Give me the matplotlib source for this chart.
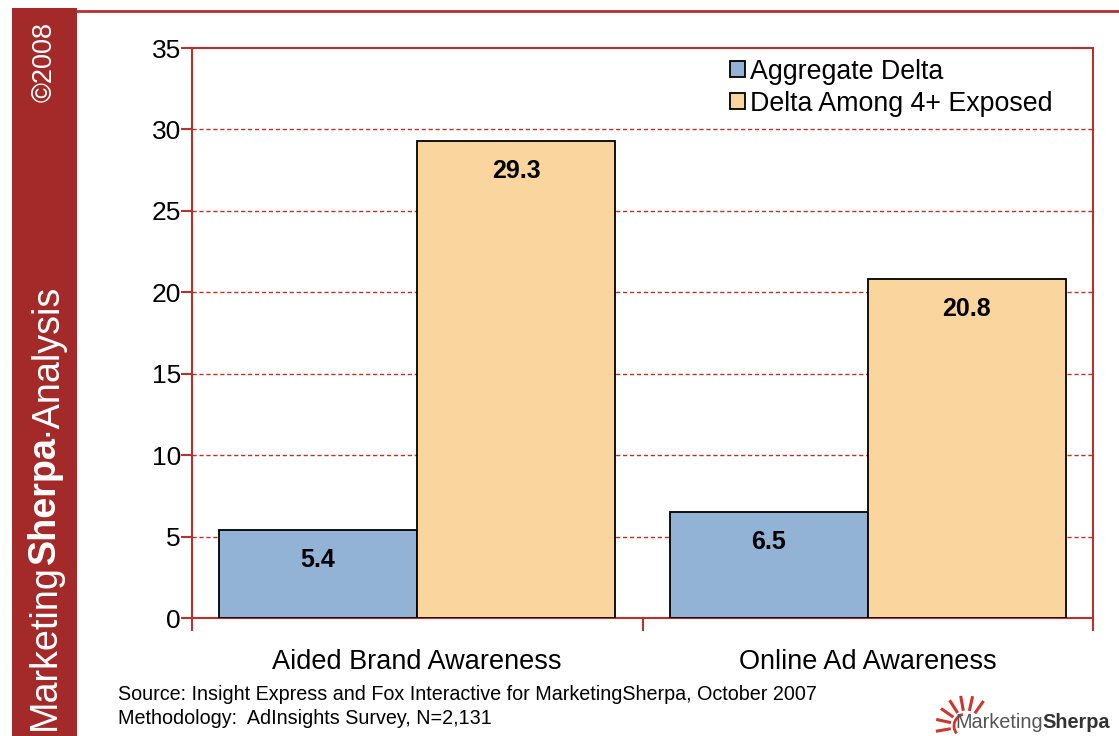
import matplotlib.pyplot as plt
import numpy as np
from matplotlib.patches import Rectangle, Arc
from matplotlib.lines import Line2D

# data
categories = ['Aided Brand Awareness', 'Online Ad Awareness']
series_names = ['Aggregate Delta', 'Delta Among 4+ Exposed']
aggregate_delta = [5.4, 6.5]
delta_4plus = [29.3, 20.8]
y_ticks = [0, 5, 10, 15, 20, 25, 30, 35]

source_lines = ['Source: Insight Express and Fox Interactive for MarketingSherpa, October 2007',
                'Methodology:  AdInsights Survey, N=2,131']


def draw_chart():
    plt.rcParams['font.family'] = ['Liberation Sans', 'DejaVu Sans']
    red = '#B8312C'
    side_red = '#A32A29'
    blue = '#93B3D6'
    orange = '#FAD59D'

    fig = plt.figure(figsize=(11.19, 7.36), dpi=100)
    W, H = 1119, 736
    r = fig.canvas.get_renderer()

    # red side band with vertical brand text
    fig.patches.append(Rectangle((12 / W, 0), 65 / W, 1 - 8 / H, transform=fig.transFigure,
                                 facecolor=side_red, edgecolor='none', zorder=0))
    fig.lines.append(Line2D([77 / W, 1], [1 - 11 / H, 1 - 11 / H], transform=fig.transFigure,
                            color=red, lw=2))
    y0 = 6
    for txt, wt in [('Marketing', 'normal'), ('Sherpa', 'bold'), ('·Analysis', 'normal')]:
        t = fig.text(55 / W, y0 / H, txt, rotation=90, rotation_mode='anchor', color='white',
                     fontsize=27.2, fontweight=wt, ha='left', va='baseline')
        y0 += t.get_window_extent(r).height
    fig.text(52 / W, 1 - 22 / H, '©2008', rotation=90, rotation_mode='anchor', color='white',
             fontsize=19.5, ha='right', va='baseline')

    # main axes
    ax = fig.add_axes([192 / W, 1 - 618 / H, (1093 - 192) / W, (618 - 48) / H])
    x = np.arange(len(categories))
    w = 0.44
    b1 = ax.bar(x - w / 2, aggregate_delta, w, color=blue, edgecolor='black', lw=1.3,
                label=series_names[0], zorder=3)
    b2 = ax.bar(x + w / 2, delta_4plus, w, color=orange, edgecolor='black', lw=1.3,
                label=series_names[1], zorder=3)

    # value labels inside top of bars
    for bars in (b1, b2):
        for bar in bars:
            hgt = bar.get_height()
            ax.annotate(f'{hgt:.1f}', (bar.get_x() + bar.get_width() / 2, hgt),
                        xytext=(0, -30), textcoords='offset pixels',
                        ha='center', va='center', fontsize=18, fontweight='bold', zorder=4)

    ax.set_xlim(-0.5, len(categories) - 0.5)
    ax.set_ylim(0, 35)
    ax.set_yticks(y_ticks)
    ax.tick_params(axis='y', labelsize=19, length=8, color=red, width=1.5, direction='out', pad=0)
    ax.set_xticks(x)
    ax.set_xticklabels(categories, fontsize=19.5)
    ax.tick_params(axis='x', length=0, pad=22)
    ax.set_xticks([-0.5, 0.5, 1.5], minor=True)
    ax.tick_params(axis='x', which='minor', length=9, color=red, width=1.5)
    for s in ax.spines.values():
        s.set_color(red)
        s.set_linewidth(1.5)
    for v in y_ticks[1:-1]:
        ax.axhline(v, color=red, lw=1, ls=(0, (3, 2)), zorder=1)

    ax.legend(loc='upper right', bbox_to_anchor=(0.967, 1.0), frameon=False, fontsize=19.3,
              handlelength=0.55, handleheight=0.55, handletextpad=0.2, labelspacing=0.22,
              borderaxespad=0.0)

    # source notes
    fig.text(118 / W, 1 - 694 / H, source_lines[0], fontsize=14.2, va='center')
    fig.text(118 / W, 1 - 718 / H, source_lines[1], fontsize=14.2, va='center')

    # logo: sun rays + wordmark
    cx, cy = 966, 726
    for ang in np.linspace(55, 190, 7):
        a = np.deg2rad(ang)
        fig.lines.append(Line2D([(cx + 17 * np.cos(a)) / W, (cx + 29 * np.cos(a)) / W],
                                [1 - (cy - 17 * np.sin(a)) / H, 1 - (cy - 29 * np.sin(a)) / H],
                                transform=fig.transFigure, color='#D0342C', lw=2.2))
    fig.patches.append(Arc((cx / W, 1 - cy / H), 24 / W, 24 / H, theta1=100, theta2=230,
                           transform=fig.transFigure, color='#D0342C', lw=2))
    lt = fig.text(955 / W, 1 - 722 / H, 'Marketing', fontsize=14.3, color='#555555', va='center')
    fig.canvas.draw()
    ext = lt.get_window_extent(r)
    fig.text(ext.x1 / W, 1 - 722 / H, 'Sherpa', fontsize=14.3, fontweight='bold',
             color='#333333', va='center')

    fig.savefig('out.png', dpi=100)
    plt.close(fig)


if __name__ == '__main__':
    draw_chart()
